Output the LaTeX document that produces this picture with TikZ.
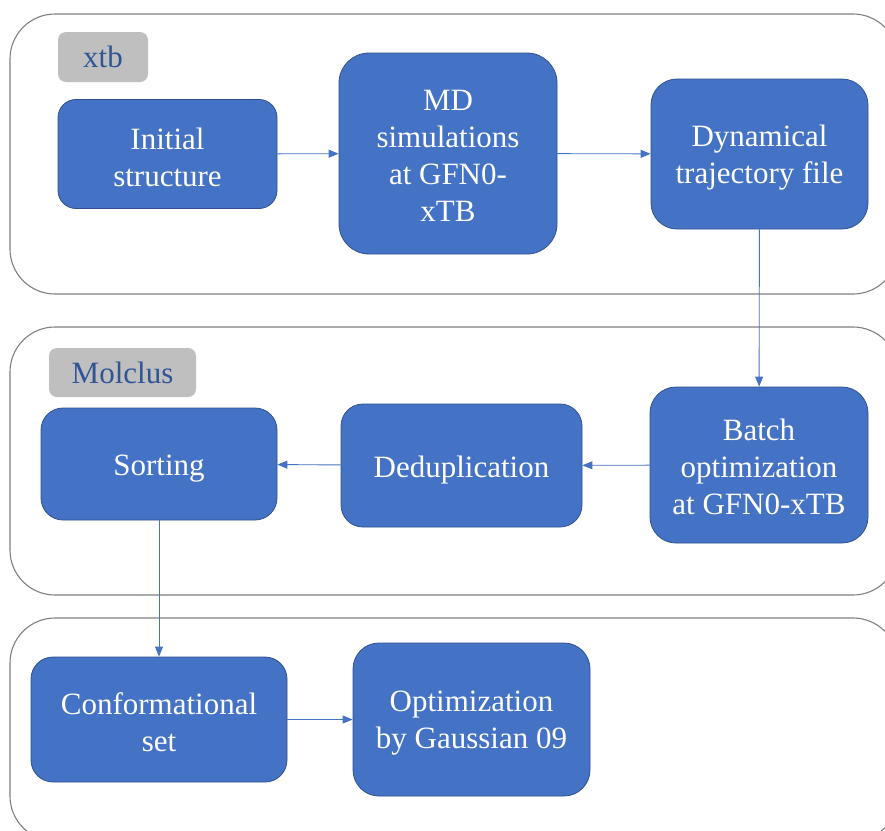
\documentclass[tikz,border=0pt]{standalone}
\usepackage{fontspec}
\setmainfont{Liberation Serif}
\usetikzlibrary{arrows.meta}
\definecolor{boxblue}{HTML}{4472C4}
\definecolor{boxedge}{HTML}{2F528F}
\definecolor{labgray}{HTML}{BFBFBF}
\definecolor{labtext}{HTML}{2F5597}
\definecolor{panelgray}{HTML}{808080}
\tikzset{
  panel/.style={draw=panelgray, line width=1.1pt, rounded corners=45pt},
  stepbox/.style={draw=boxedge, line width=0.8pt, fill=boxblue, rounded corners=22pt, inner sep=0pt},
  steptext/.style={text=white, align=center, inner sep=0pt, font=\fontsize{31}{37}\selectfont},
  tag/.style={fill=labgray, text=labtext, rounded corners=8pt, inner sep=0pt,
     font=\fontsize{31}{37}\selectfont},
  conn/.style={draw=boxblue, line width=0.9pt, -{Triangle[length=10pt,width=8pt]}}
}
\begin{document}
\begin{tikzpicture}[x=1pt,y=-1pt]
\useasboundingbox (0,0) rectangle (885,830);
\clip (0,0) rectangle (885,830);
\fill[white] (0,0) rectangle (885,830);
% panels
\draw[panel] (10,14) rectangle (898,294);
\draw[panel] (10,327) rectangle (898,595);
\draw[panel] (10,618) rectangle (898,841);
% labels
\node[tag, minimum width=90pt, minimum height=50pt] (xtb) at (103,57) {\raisebox{-2pt}{xtb}};
\node[tag, minimum width=147pt, minimum height=49pt] (molclus) at (122.5,372.5) {\raisebox{-2pt}{Molclus}};
% boxes
\node[stepbox, minimum width=219pt, minimum height=109pt, rounded corners=18pt] (init) at (167.5,154) {};
\node[stepbox, minimum width=218pt, minimum height=201pt, rounded corners=30pt] (md) at (448,153.5) {};
\node[stepbox, minimum width=217pt, minimum height=150pt, rounded corners=26pt] (dyn) at (759.5,154) {};
\node[stepbox, minimum width=218pt, minimum height=156pt, rounded corners=26pt] (batch) at (759,465) {};
\node[stepbox, minimum width=241pt, minimum height=123pt] (dedup) at (461.5,465.5) {};
\node[stepbox, minimum width=236pt, minimum height=112pt] (sort) at (159,464) {};
\node[stepbox, minimum width=256pt, minimum height=125pt] (conf) at (159,719.5) {};
\node[stepbox, minimum width=237pt, minimum height=153pt, rounded corners=26pt] (opt) at (471.5,719.5) {};
% texts
\node[steptext] (init-t) at ([yshift=-3pt]init.center) {Initial\\structure};
\node[steptext] (md-t) at ([yshift=-2pt]md.center) {MD\\simulations\\at GFN0-\\xTB};
\node[steptext] (dyn-t) at ([yshift=-4pt]dyn.center) {Dynamical\\trajectory file};
\node[steptext] (batch-t) at ([yshift=-2pt]batch.center) {Batch\\optimization\\at GFN0-xTB};
\node[steptext] (dedup-t) at ([yshift=-5pt]dedup.center) {Deduplication};
\node[steptext] (sort-t) at ([yshift=-5pt]sort.center) {Sorting};
\node[steptext] (conf-t) at ([yshift=-3pt]conf.center) {Conformational\\set};
\node[steptext] (opt-t) at ([yshift=-4pt]opt.center) {Optimization\\by Gaussian 09};
% connectors
\draw[conn] (init) -- (md);
\draw[conn] (md) -- (dyn);
\draw[conn] (dyn) -- (batch);
\draw[conn] (batch) -- (dedup);
\draw[conn] (dedup) -- (sort);
\draw[conn] (sort) -- (conf);
\draw[conn] (conf) -- (opt);
\end{tikzpicture}
\end{document}
